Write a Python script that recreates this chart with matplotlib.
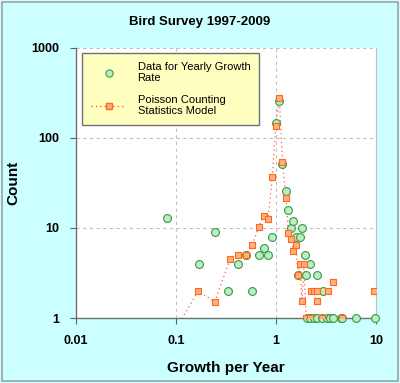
import numpy as np
from matplotlib import pyplot as plt
from matplotlib.lines import Line2D
from matplotlib.patches import Rectangle

# Datos observados: crecimiento anual y cuenta
growth_data = [0.082, 0.169, 0.244, 0.334, 0.417, 0.497, 0.575, 0.671, 0.755, 0.825,
               0.915, 0.99, 1.08, 1.155, 1.26, 1.33, 1.41, 1.49, 1.58, 1.65,
               1.75, 1.81, 1.95, 2.01, 2.19, 2.59, 2.97,
               2.06, 2.17, 2.40, 2.55, 2.88, 3.21, 3.47, 3.69, 4.43, 4.6, 6.31, 9.8]
count_data = [13, 4, 9, 2, 4, 5, 2, 5, 6, 5,
              8, 145, 260, 52, 26, 16, 10, 12, 8, 3,
              8, 10, 5, 3, 4, 3, 2,
              1, 1, 1, 1, 1, 1, 1, 1, 1, 1, 1, 1]

# Modelo de Poisson (ordenado por crecimiento)
growth_model = [0.08, 0.167, 0.244, 0.347, 0.415, 0.497, 0.58, 0.67, 0.75, 0.83,
                0.92, 0.99, 1.08, 1.16, 1.26, 1.33, 1.41, 1.49, 1.58, 1.66,
                1.74, 1.81, 1.91, 2.0, 2.19,
                2.22, 2.40, 2.59, 2.59, 2.86, 3.34, 3.74, 4.54, 9.62]
count_model = [0.5, 2, 1.5, 4.5, 5, 5, 6.5, 10.2, 13.6, 12.5,
               36.5, 137, 275, 54, 21.3, 8.9, 7.5, 5.5, 6.5, 3,
               4, 1.55, 4, 1, 1,
               2, 2, 2, 1.55, 1, 2, 2.5, 1, 2]
n_line = 25  # puntos del modelo unidos por la linea punteada

x_ticks = [0.01, 0.1, 1, 10]
x_labels = ['0.01', '0.1', '1', '10']
y_ticks = [1, 10, 100, 1000]
y_labels = ['1', '10', '100', '1000']

plt.rcParams['font.family'] = ['Liberation Sans', 'DejaVu Sans']

fig = plt.figure(figsize=(4.0, 3.83), dpi=100, facecolor='#CCFFFF')
fig.patches.append(Rectangle((0.006, 0.004), 0.988, 0.99, transform=fig.transFigure,
                             fill=False, edgecolor='#A0A0A0', lw=1.2))

ax = fig.add_axes([0.19, 0.1697, 0.75, 0.705])
ax.set_facecolor('white')
ax.set_xscale('log')
ax.set_yscale('log')
ax.set_xlim(0.01, 10)
ax.set_ylim(1, 1000)

ax.grid(True, which='major', color='#C0C0C0', linestyle=(0, (3, 3)), lw=0.8)
ax.minorticks_off()
ax.set_xticks(x_ticks)
ax.set_xticklabels(x_labels)
ax.set_yticks(y_ticks)
ax.set_yticklabels(y_labels)
ax.tick_params(direction='out', length=4, width=0.8, color='#606060',
               labelsize=9, pad=8)
for lab in ax.get_xticklabels() + ax.get_yticklabels():
    lab.set_fontweight('bold')

for side in ['left', 'bottom']:
    ax.spines[side].set_color('#707070')
    ax.spines[side].set_linewidth(1.0)
ax.spines['right'].set_color('#C0C0C0')
ax.spines['right'].set_linewidth(0.8)
ax.spines['top'].set_visible(False)

# Linea del modelo
ax.plot(growth_model[:n_line], count_model[:n_line], color='#FF4020', lw=0.9,
        linestyle=(0, (1, 2.5)), alpha=0.85, zorder=3)

# Datos
ax.scatter(growth_data, count_data, s=32, facecolor='#B8EEC0', edgecolor='#3A9A4A',
           linewidths=0.8, zorder=4, clip_on=False)
ax.scatter(growth_model, count_model, s=14, marker='s', facecolor='#FFB080',
           edgecolor='#FF6A1A', linewidths=0.8, zorder=5)

ax.set_xlabel('Growth per Year', fontsize=11, fontweight='bold', labelpad=10)
ax.set_ylabel('Count', fontsize=11, fontweight='bold', labelpad=8)
fig.text(0.5, 1 - 22 / 383, 'Bird Survey 1997-2009', ha='center', va='center',
         fontsize=9.5, fontweight='bold')

handles = [
    Line2D([], [], color='none', marker='o', markersize=5.2, markerfacecolor='#B8EEC0',
           markeredgecolor='#3A9A4A', markeredgewidth=0.8,
           label='Data for Yearly Growth\nRate'),
    Line2D([], [], color='#FF4020', lw=0.9, linestyle=(0, (1, 2.5)), marker='s',
           markersize=3.8, markerfacecolor='#FFB080', markeredgecolor='#FF6A1A',
           label='Poisson Counting\nStatistics Model'),
]
leg = ax.legend(handles=handles, loc='upper left', bbox_to_anchor=(82 / 400, 1 - 53 / 383),
                bbox_transform=fig.transFigure, borderaxespad=0, fontsize=8,
                frameon=True, fancybox=False, handlelength=3.2, handletextpad=1.0,
                labelspacing=1.0, borderpad=0.8)
leg.get_frame().set_facecolor('#FFFFC0')
leg.get_frame().set_edgecolor('#707070')
leg.get_frame().set_linewidth(1.0)
leg.get_frame().set_alpha(1)
leg.set_zorder(10)

fig.savefig('out.png', dpi=100, facecolor=fig.get_facecolor())
plt.close()
